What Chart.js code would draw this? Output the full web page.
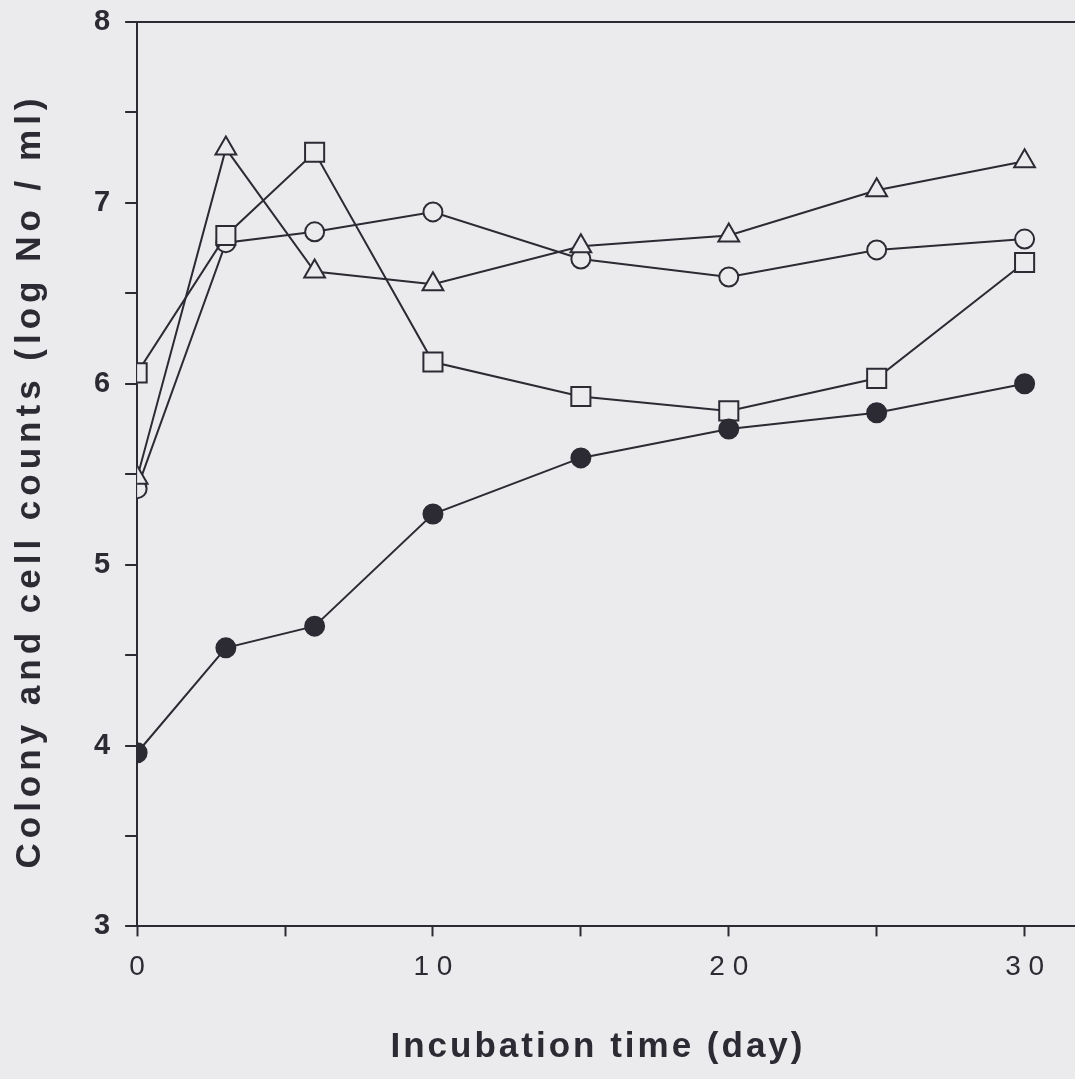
<!DOCTYPE html>
<html>
<head>
<meta charset="utf-8">
<script src="https://cdn.jsdelivr.net/npm/chart.js@4.4.1/dist/chart.umd.min.js"></script>
<style>
  html, body { margin: 0; padding: 0; background: #ebebee; }
  #wrap { width: 1075px; height: 1079px; }
</style>
</head>
<body>
<div id="wrap"><canvas id="c" width="1075" height="1079"></canvas></div>
<script>
// Incubation days and log counts for each series
const days = [0, 3, 6, 10, 15, 20, 25, 30];
const filledCircle = [3.96, 4.54, 4.66, 5.28, 5.59, 5.75, 5.84, 6.00];
const openSquare   = [6.06, 6.82, 7.28, 6.12, 5.93, 5.85, 6.03, 6.67];
const openTriangle = [5.48, 7.30, 6.62, 6.55, 6.76, 6.82, 7.07, 7.23];
const openCircle   = [5.42, 6.78, 6.84, 6.95, 6.69, 6.59, 6.74, 6.80];

const xTicks = [0, 5, 10, 15, 20, 25, 30];
const yTicks = [3, 3.5, 4, 4.5, 5, 5.5, 6, 6.5, 7, 7.5, 8];

const xTitle = 'Incubation time (day)';
const yTitle = 'Colony and cell counts (log No / ml)';

const INK = '#2c2a33';
const PAPER = '#ebebee';
const FONT = '"Liberation Sans", Arial, Helvetica, sans-serif';

function pts(vals) { return days.map((d, i) => ({ x: d, y: vals[i] })); }

function series(vals, style, radius, filled) {
  return {
    data: pts(vals),
    borderColor: INK,
    borderWidth: 2,
    pointStyle: style,
    pointRadius: radius,
    pointBorderWidth: 2,
    pointBorderColor: INK,
    pointBackgroundColor: filled ? INK : PAPER,
    showLine: true,
    tension: 0
  };
}

const spaced = v => String(v).split('').join(' ');

// Frame lines running out to the page edge, plus the axis titles
const frameAndTitles = {
  id: 'frameAndTitles',
  afterDraw(chart) {
    const ctx = chart.ctx;
    const a = chart.chartArea;
    const yTop = Math.round(chart.scales.y.getPixelForValue(8));
    const yBottom = Math.round(chart.scales.x.top);
    ctx.save();
    ctx.strokeStyle = INK;
    ctx.lineWidth = 2;
    ctx.beginPath();
    ctx.moveTo(a.right - 2, yTop);
    ctx.lineTo(chart.width, yTop);
    ctx.moveTo(a.right - 2, yBottom);
    ctx.lineTo(chart.width, yBottom);
    ctx.stroke();

    ctx.fillStyle = INK;
    ctx.font = 'bold 35px ' + FONT;
    ctx.textAlign = 'center';
    ctx.textBaseline = 'middle';
    ctx.letterSpacing = '3px';
    ctx.fillText(xTitle, 598, 1047);
    ctx.translate(30, 481);
    ctx.rotate(-Math.PI / 2);
    ctx.letterSpacing = '5px';
    ctx.fillText(yTitle, 0, 0);
    ctx.restore();
  }
};

new Chart(document.getElementById('c'), {
  type: 'scatter',
  data: {
    datasets: [
      series(filledCircle, 'circle', 9.5, true),
      series(openSquare, 'rect', 13.5, false),
      series(openTriangle, 'triangle', 12, false),
      series(openCircle, 'circle', 9.5, false)
    ]
  },
  plugins: [frameAndTitles],
  options: {
    responsive: false,
    animation: false,
    layout: { padding: { top: 22, right: 0, bottom: 81, left: 79 } },
    plugins: { legend: { display: false }, tooltip: { enabled: false } },
    scales: {
      x: {
        type: 'linear',
        min: 0,
        max: 31.18,
        afterBuildTicks: s => { s.ticks = xTicks.map(v => ({ value: v })); },
        afterFit: s => { s.paddingLeft = 0; s.paddingRight = 0; },
        ticks: {
          color: INK,
          font: { family: FONT, size: 28 },
          padding: 14,
          maxRotation: 0,
          autoSkip: false,
          callback: v => (v % 10 === 0 ? spaced(v) : '')
        },
        grid: {
          drawOnChartArea: false,
          drawTicks: true,
          tickLength: 10,
          tickColor: INK,
          tickWidth: 2
        },
        border: { display: true, color: INK, width: 2 }
      },
      y: {
        type: 'linear',
        min: 3,
        max: 8,
        afterBuildTicks: s => { s.ticks = yTicks.map(v => ({ value: v })); },
        afterFit: s => { s.paddingTop = 0; s.paddingBottom = 0; },
        ticks: {
          color: INK,
          font: { family: FONT, size: 29, weight: 'bold' },
          padding: 15,
          autoSkip: false,
          callback: v => (Number.isInteger(v) ? String(v) : '')
        },
        grid: {
          drawOnChartArea: true,
          drawTicks: true,
          tickLength: 12,
          tickColor: INK,
          tickWidth: 2,
          lineWidth: 2,
          color: ctx => (ctx.tick && ctx.tick.value === 8 ? INK : 'rgba(0,0,0,0)')
        },
        border: { display: true, color: INK, width: 2 }
      }
    }
  }
});
</script>
</body>
</html>
